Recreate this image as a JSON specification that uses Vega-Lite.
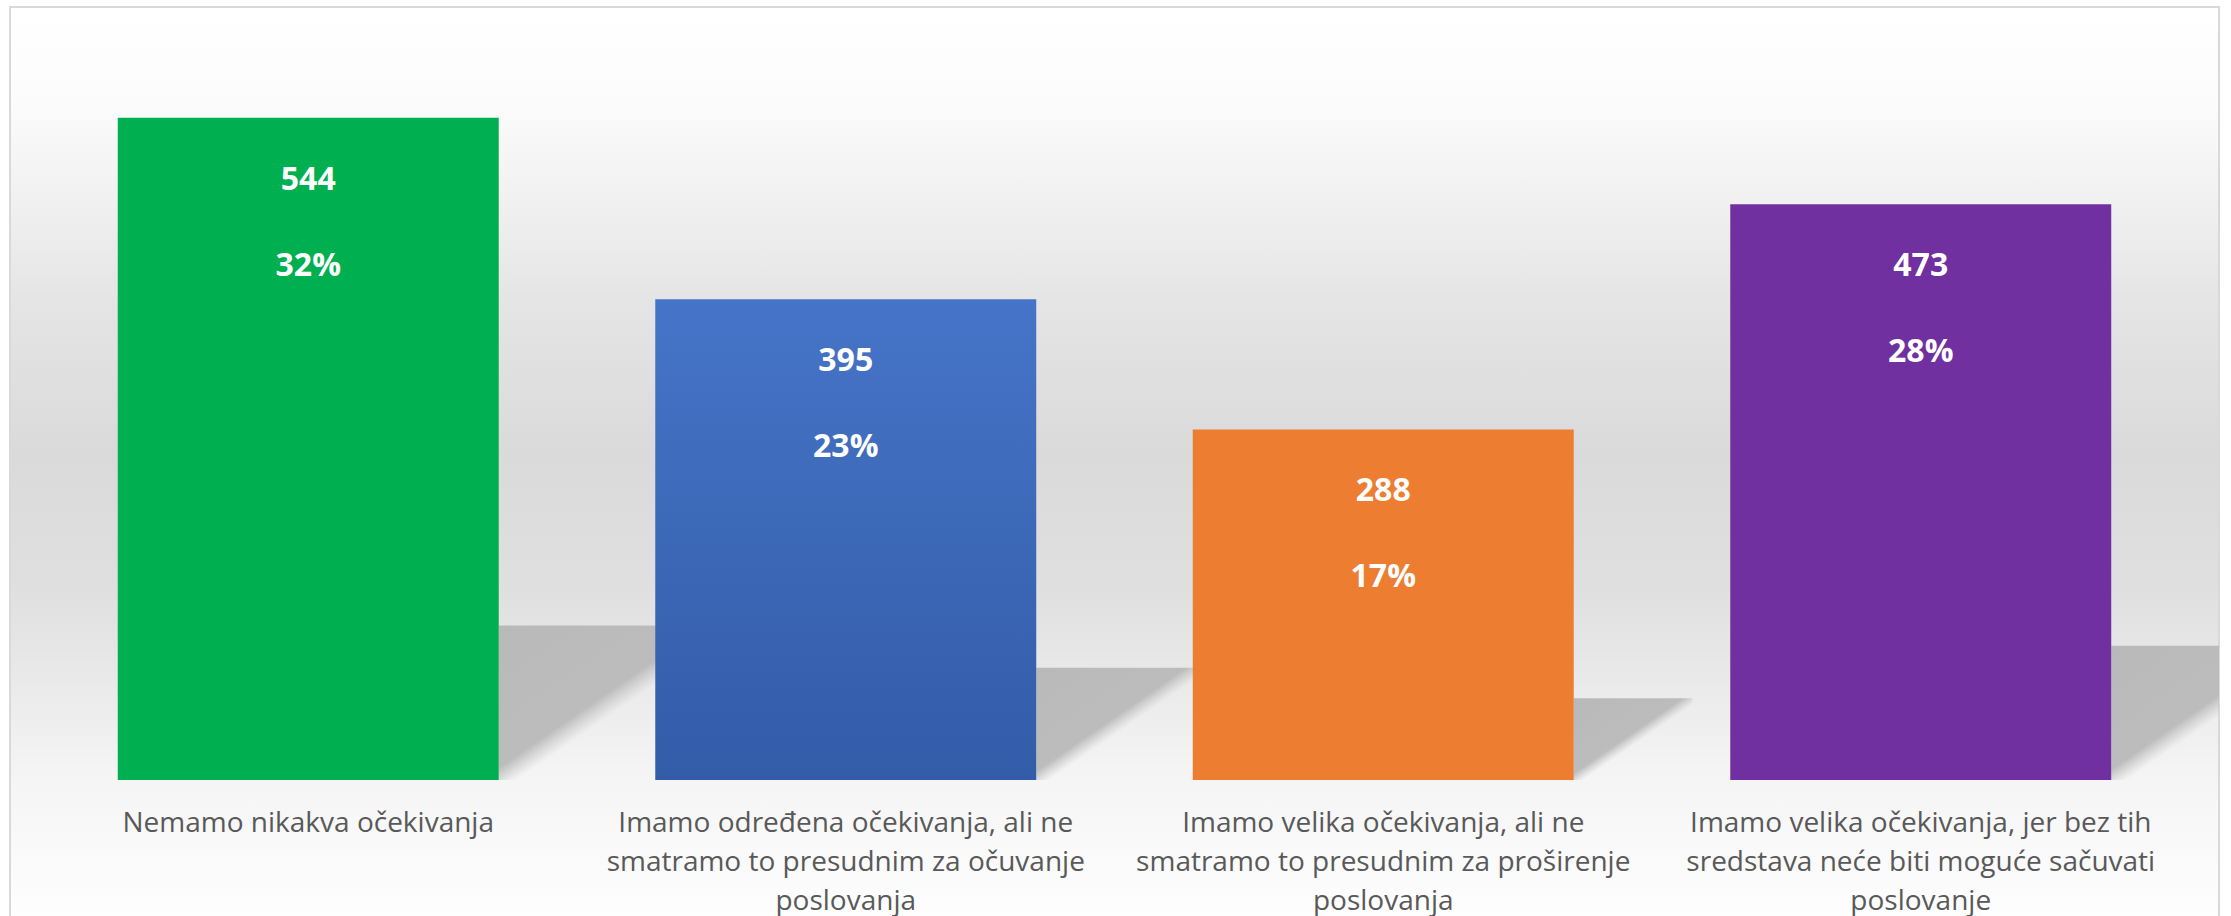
{
  "$schema": "https://vega.github.io/schema/vega-lite/v6.json",
  "width": 2209,
  "height": 912,
  "autosize": {"type": "none"},
  "padding": {"left": 10, "top": 7, "right": 12, "bottom": 0},
  "background": "#ffffff",
  "config": {
    "view": {
      "stroke": "#d9d9d9",
      "strokeWidth": 2,
      "fill": {
        "gradient": "linear", "x1": 0, "y1": 0, "x2": 0, "y2": 1,
        "stops": [
          {"offset": 0, "color": "#ffffff"},
          {"offset": 0.1, "color": "#fcfcfc"},
          {"offset": 0.21, "color": "#f1f1f1"},
          {"offset": 0.32, "color": "#e5e5e5"},
          {"offset": 0.49, "color": "#dadada"},
          {"offset": 0.63, "color": "#dfdfdf"},
          {"offset": 0.705, "color": "#e6e6e6"},
          {"offset": 0.78, "color": "#eeeeee"},
          {"offset": 0.848, "color": "#f5f5f5"},
          {"offset": 1, "color": "#fefefe"}
        ]
      }
    },
    "axis": {"grid": false}
  },
  "data": {
    "values": [
      {"category": "Nemamo nikakva očekivanja", "count": 544, "share": 0.32},
      {"category": "Imamo određena očekivanja, ali ne\nsmatramo to presudnim za očuvanje\nposlovanja", "count": 395, "share": 0.23},
      {"category": "Imamo velika očekivanja, ali ne\nsmatramo to presudnim za proširenje\nposlovanja", "count": 288, "share": 0.17},
      {"category": "Imamo velika očekivanja, jer bez tih\nsredstava neće biti moguće sačuvati\nposlovanje", "count": 473, "share": 0.28}
    ]
  },
  "encoding": {
    "x": {
      "field": "category",
      "type": "nominal",
      "sort": null,
      "scale": {"paddingInner": 0.2912, "paddingOuter": 0.2005},
      "axis": {
        "title": null,
        "domain": false,
        "ticks": false,
        "tickSize": 0,
        "labelAngle": 0,
        "labelFont": "Open Sans",
        "labelFontSize": 28,
        "labelColor": "#595959",
        "labelLineHeight": 39,
        "labelBaseline": "alphabetic",
        "labelPadding": 51,
        "labelLimit": 0,
        "labelOverlap": false,
        "labelFlush": false,
        "labelAlign": "center",
        "labelExpr": "split(datum.value, '\\n')",
        "offset": -139
      }
    }
  },
  "layer": [
    {
      "mark": {
        "type": "bar",
        "clip": true,
        "fill": {
          "gradient": "linear", "x1": 0, "y1": 0, "x2": 1, "y2": 1,
          "stops": [
            {"offset": 0, "color": "#b9b9b9"},
            {"offset": 0.46, "color": "#bcbcbc"},
            {"offset": 0.54, "color": "rgba(200,200,200,0)"},
            {"offset": 1, "color": "rgba(200,200,200,0)"}
          ]
        }
      },
      "encoding": {
        "y": {"field": "count", "type": "quantitative", "scale": {"domain": [-489.4, 2722], "nice": false, "zero": false}, "axis": null},
        "xOffset": {"field": "count", "type": "quantitative", "scale": {"domain": [0, 600], "range": [381, 504.5], "zero": false, "nice": false}},
        "size": {"field": "count", "type": "quantitative", "scale": {"domain": [0, 600], "range": [0, 247]}, "legend": null}
      }
    },
    {
      "mark": {"type": "bar"},
      "encoding": {
        "y": {"field": "count", "type": "quantitative", "scale": {"domain": [-114.2, 635], "nice": false, "zero": false}, "axis": null},
        "fill": {
          "condition": {
            "test": "datum.count === 395",
            "value": {
              "gradient": "linear", "x1": 0, "y1": 0, "x2": 0, "y2": 1,
              "stops": [
                {"offset": 0, "color": "#4674c8"},
                {"offset": 1, "color": "#335ca8"}
              ]
            }
          },
          "field": "category",
          "type": "nominal",
          "sort": null,
          "scale": {"range": ["#00b050", "#4472c4", "#ed7d31", "#7030a0"]},
          "legend": null
        }
      }
    },
    {
      "mark": {"type": "text", "font": "Open Sans", "fontWeight": "bold", "fontSize": 32, "color": "#ffffff", "baseline": "middle", "dy": 62},
      "encoding": {
        "y": {"field": "count", "type": "quantitative", "scale": {"domain": [-114.2, 635], "nice": false, "zero": false}, "axis": null},
        "text": {"field": "count", "type": "quantitative"}
      }
    },
    {
      "mark": {"type": "text", "font": "Open Sans", "fontWeight": "bold", "fontSize": 32, "color": "#ffffff", "baseline": "middle", "dy": 148},
      "encoding": {
        "y": {"field": "count", "type": "quantitative", "scale": {"domain": [-114.2, 635], "nice": false, "zero": false}, "axis": null},
        "text": {"field": "share", "type": "quantitative", "format": ".0%"}
      }
    }
  ],
  "resolve": {"scale": {"y": "independent", "size": "independent", "xOffset": "independent"}}
}
